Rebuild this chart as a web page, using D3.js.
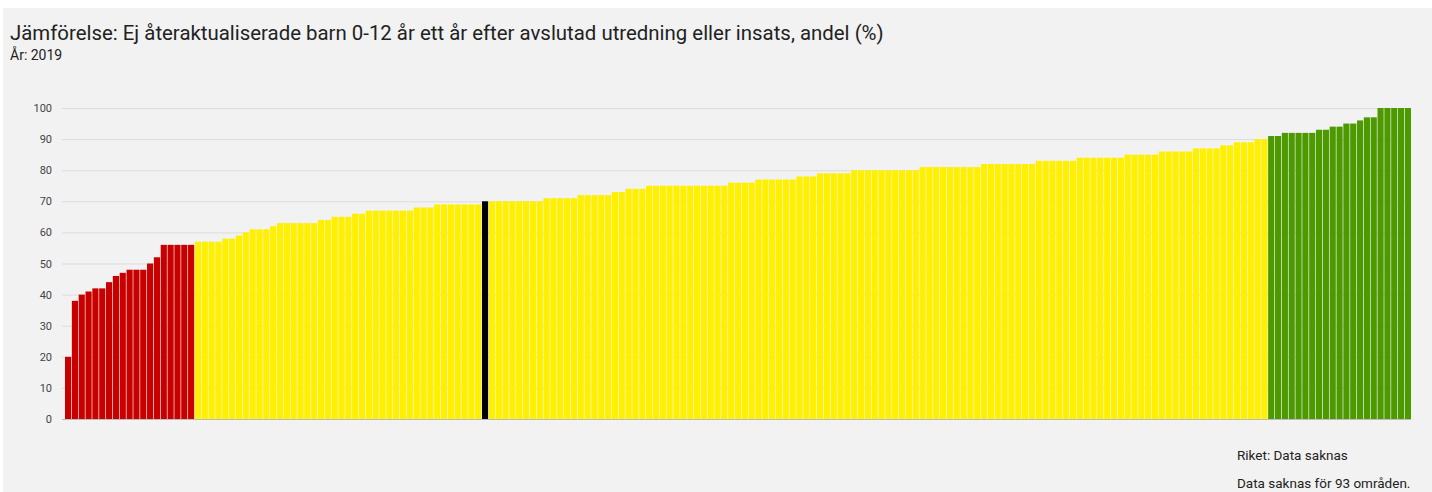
<!DOCTYPE html>
<html>
<head>
<meta charset="utf-8">
<script src="https://cdn.jsdelivr.net/npm/d3@7"></script>
<style>
  body { margin: 0; background: #fff; font-family: Roboto, "Open Sans", sans-serif; }
  svg { display: block; }
</style>
</head>
<body>
<div id="chart"></div>
<script>
// Values per area, sorted ascending (197 areas with data)
const values = [
    20, 38, 40, 41, 42, 42, 44, 46, 47, 48, 48, 48, 50, 52, 56, 56, 56, 56, 56,
    57, 57, 57, 57, 58, 58, 59, 60, 61, 61, 61, 62, 63, 63, 63, 63, 63, 63, 64, 64,
    65, 65, 65, 66, 66, 67, 67, 67, 67, 67, 67, 67, 68, 68, 68, 69, 69, 69, 69, 69, 69, 69,
    70,
    70, 70, 70, 70, 70, 70, 70, 70, 71, 71, 71, 71, 71, 72, 72, 72, 72, 72, 73, 73,
    74, 74, 74, 75, 75, 75, 75, 75, 75, 75, 75, 75, 75, 75, 75, 76, 76, 76, 76,
    77, 77, 77, 77, 77, 77, 78, 78, 78, 79, 79, 79, 79, 79,
    80, 80, 80, 80, 80, 80, 80, 80, 80, 80, 81, 81, 81, 81, 81, 81, 81, 81, 81,
    82, 82, 82, 82, 82, 82, 82, 82, 83, 83, 83, 83, 83, 83, 84, 84, 84, 84, 84, 84, 84,
    85, 85, 85, 85, 85, 86, 86, 86, 86, 86, 87, 87, 87, 87, 88, 88, 89, 89, 89, 90, 90,
    91, 91, 92, 92, 92, 92, 92, 93, 93, 94, 94, 95, 95, 96, 97, 97, 100, 100, 100, 100, 100
];
// group per bar: low / mid / high, and the highlighted area
const groups = [
    ...Array(19).fill('low'),
    ...Array(42).fill('mid'),
    'selected',
    ...Array(114).fill('mid'),
    ...Array(21).fill('high')
];
const yTicks = [0, 10, 20, 30, 40, 50, 60, 70, 80, 90, 100];

const title = 'Jämförelse: Ej återaktualiserade barn 0-12 år ett år efter avslutad utredning eller insats, andel (%)';
const subtitle = 'År: 2019';
const footnotes = ['Riket: Data saknas', 'Data saknas för 93 områden.'];

const colors = { low: '#c80000', mid: '#fff000', high: '#4c9a00', selected: '#000000' };

const width = 1432, height = 492;
const margin = { left: 65, right: 21, top: 108, bottom: 73 };

const svg = d3.select('#chart').append('svg')
    .attr('width', width)
    .attr('height', height);

svg.append('rect')
    .attr('x', 3).attr('y', 8)
    .attr('width', width - 3).attr('height', height - 8)
    .attr('fill', '#f2f2f2');

svg.append('text')
    .attr('x', 10).attr('y', 40)
    .style('font-size', '20.4px')
    .style('fill', '#222')
    .text(title);

svg.append('text')
    .attr('x', 10).attr('y', 60)
    .style('font-size', '14px')
    .style('fill', '#222')
    .text(subtitle);

const x = d3.scaleBand()
    .domain(d3.range(values.length))
    .range([margin.left, width - margin.right])
    .paddingInner(0.1);

const y = d3.scaleLinear()
    .domain([0, 100])
    .range([height - margin.bottom, margin.top]);

// gridlines + labels
const yAxis = svg.append('g')
    .attr('transform', `translate(${margin.left - 3},0)`)
    .call(d3.axisLeft(y).tickValues(yTicks).tickSize(-(width - margin.right - margin.left + 3)).tickPadding(10));

yAxis.select('.domain').remove();
yAxis.selectAll('.tick line')
    .attr('stroke', d => d === 0 ? '#bbb' : '#dcdcdc');
yAxis.selectAll('.tick text')
    .style('font-family', 'Roboto, sans-serif')
    .style('font-size', '11px')
    .style('fill', '#444');

svg.append('g')
    .selectAll('rect')
    .data(values)
    .join('rect')
    .attr('x', (d, i) => x(i))
    .attr('width', x.bandwidth())
    .attr('y', d => y(d))
    .attr('height', d => y(0) - y(d))
    .attr('fill', (d, i) => colors[groups[i]]);

svg.selectAll('.foot')
    .data(footnotes)
    .join('text')
    .attr('class', 'foot')
    .attr('x', 1237)
    .attr('y', (d, i) => 460 + i * 28)
    .style('font-size', '13.5px')
    .style('fill', '#222')
    .text(d => d);
</script>
</body>
</html>
